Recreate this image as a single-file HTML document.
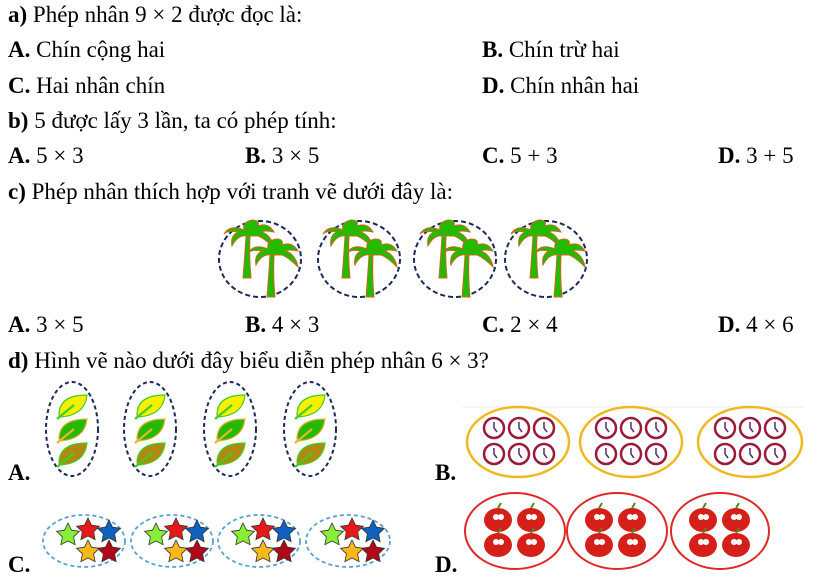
<!DOCTYPE html>
<html><head><meta charset="utf-8"><style>
body{margin:0;background:#fff;}
svg{display:block;font-family:"Liberation Serif",serif;font-size:23px;}
</style></head><body>
<svg width="825" height="582" viewBox="0 0 825 582" xmlns="http://www.w3.org/2000/svg">
<defs>
<g id="palm">
 <path d="M-3 0 q2 -25 3 -42 l4 0 q-1 22 1 42 z" fill="#22bb00" stroke="#c86a1a" stroke-width="1"/>
 <path d="M2 -42 q-10 -2 -16 10 q-2 -10 6 -14 q-10 -2 -14 2 q6 -10 20 -4 q-2 -8 8 -10 q8 0 6 6 q10 -4 16 6 q-10 -2 -12 0 q10 4 12 16 q-10 -10 -16 -12 z" fill="#22bb00" stroke="#c86a1a" stroke-width="1"/>
</g>
<g id="leaf">
 <path d="M-14 10 q0 -20 28 -20 q-2 20 -26 22 z" stroke-width="1.2"/>
 <path d="M-16 14 l17 -14" stroke-width="2.2" fill="none"/>
</g>
<g id="clock"><circle r="10" fill="#fff" stroke="#9a1a3a" stroke-width="2.5"/><path d="M0 -6 v6 l3 4" stroke="#5a2a6a" stroke-width="1.5" fill="none"/></g>
<g id="apple"><path d="M0 -12 l3 -5" stroke="#4a8a20" stroke-width="2"/><ellipse cy="0" rx="14" ry="12" fill="#d42018"/><circle cx="-2" cy="-3" r="3" fill="#fff"/><circle cx="3" cy="-3" r="3" fill="#fff"/></g>
<path id="star" d="M0 -12 L3.5 -4.8 11.4 -3.7 5.6 1.8 7.1 9.7 0 6 -7.1 9.7 -5.6 1.8 -11.4 -3.7 -3.5 -4.8 z" stroke="#333" stroke-width="0.8"/>
</defs>
<text x="8" y="22"><tspan font-weight="bold">a)</tspan> Phép nhân 9 × 2 được đọc là:</text>
<text x="8" y="57"><tspan font-weight="bold">A.</tspan> Chín cộng hai</text>
<text x="482" y="57"><tspan font-weight="bold">B.</tspan> Chín trừ hai</text>
<text x="8" y="93"><tspan font-weight="bold">C.</tspan> Hai nhân chín</text>
<text x="482" y="93"><tspan font-weight="bold">D.</tspan> Chín nhân hai</text>
<text x="8" y="128"><tspan font-weight="bold">b)</tspan> 5 được lấy 3 lần, ta có phép tính:</text>
<text x="8" y="163"><tspan font-weight="bold">A.</tspan> 5 × 3</text>
<text x="245" y="163"><tspan font-weight="bold">B.</tspan> 3 × 5</text>
<text x="482" y="163"><tspan font-weight="bold">C.</tspan> 5 + 3</text>
<text x="718" y="163"><tspan font-weight="bold">D.</tspan> 3 + 5</text>
<text x="8" y="199"><tspan font-weight="bold">c)</tspan> Phép nhân thích hợp với tranh vẽ dưới đây là:</text>
<g fill="none" stroke="#1a2a5a" stroke-width="2" stroke-dasharray="5,3">
<ellipse cx="260" cy="259" rx="41" ry="38"/><ellipse cx="359" cy="259" rx="41" ry="38"/><ellipse cx="455" cy="259" rx="41" ry="38"/><ellipse cx="546" cy="259" rx="41" ry="38"/>
</g>
<g>
<use href="#palm" x="246" y="278"/><use href="#palm" x="270" y="297"/>
<use href="#palm" x="345" y="278"/><use href="#palm" x="369" y="297"/>
<use href="#palm" x="442" y="278"/><use href="#palm" x="465" y="297"/>
<use href="#palm" x="533" y="278"/><use href="#palm" x="557" y="297"/>
</g>
<text x="8" y="332"><tspan font-weight="bold">A.</tspan> 3 × 5</text>
<text x="245" y="332"><tspan font-weight="bold">B.</tspan> 4 × 3</text>
<text x="482" y="332"><tspan font-weight="bold">C.</tspan> 2 × 4</text>
<text x="718" y="332"><tspan font-weight="bold">D.</tspan> 4 × 6</text>
<text x="8" y="368"><tspan font-weight="bold">d)</tspan> Hình vẽ nào dưới đây biểu diễn phép nhân 6 × 3?</text>
<g fill="none" stroke="#1a2a5a" stroke-width="2" stroke-dasharray="4,3">
<ellipse cx="72" cy="429" rx="26" ry="47"/><ellipse cx="150" cy="429" rx="26" ry="47"/><ellipse cx="230" cy="429" rx="26" ry="47"/><ellipse cx="310" cy="429" rx="26" ry="47"/>
</g>
<g>
<g transform="translate(73,405)"><use href="#leaf" fill="#f4f000" stroke="#44cc22"/></g>
<g transform="translate(73,429)"><use href="#leaf" fill="#22bb00" stroke="#f0b030"/></g>
<g transform="translate(73,453)"><use href="#leaf" fill="#b08a10" stroke="#44cc22"/></g>
<g transform="translate(151,405)"><use href="#leaf" fill="#f4f000" stroke="#44cc22"/></g>
<g transform="translate(151,429)"><use href="#leaf" fill="#22bb00" stroke="#f0b030"/></g>
<g transform="translate(151,453)"><use href="#leaf" fill="#b08a10" stroke="#44cc22"/></g>
<g transform="translate(231,405)"><use href="#leaf" fill="#f4f000" stroke="#44cc22"/></g>
<g transform="translate(231,429)"><use href="#leaf" fill="#22bb00" stroke="#f0b030"/></g>
<g transform="translate(231,453)"><use href="#leaf" fill="#b08a10" stroke="#44cc22"/></g>
<g transform="translate(311,405)"><use href="#leaf" fill="#f4f000" stroke="#44cc22"/></g>
<g transform="translate(311,429)"><use href="#leaf" fill="#22bb00" stroke="#f0b030"/></g>
<g transform="translate(311,453)"><use href="#leaf" fill="#b08a10" stroke="#44cc22"/></g>
</g>
<text x="8" y="480" font-weight="bold">A.</text>
<text x="435" y="480" font-weight="bold">B.</text>
<line x1="462" y1="407" x2="805" y2="407" stroke="#eee" stroke-width="1"/>
<g fill="none" stroke="#f0b820" stroke-width="2.5">
<ellipse cx="518" cy="442" rx="51" ry="35"/><ellipse cx="631" cy="442" rx="51" ry="35"/><ellipse cx="750" cy="442" rx="52" ry="35"/>
</g>
<g>
<use href="#clock" x="494" y="428"/><use href="#clock" x="519" y="428"/><use href="#clock" x="544" y="428"/>
<use href="#clock" x="494" y="454"/><use href="#clock" x="519" y="454"/><use href="#clock" x="544" y="454"/>
<use href="#clock" x="606" y="428"/><use href="#clock" x="631" y="428"/><use href="#clock" x="656" y="428"/>
<use href="#clock" x="606" y="454"/><use href="#clock" x="631" y="454"/><use href="#clock" x="656" y="454"/>
<use href="#clock" x="725" y="428"/><use href="#clock" x="750" y="428"/><use href="#clock" x="775" y="428"/>
<use href="#clock" x="725" y="454"/><use href="#clock" x="750" y="454"/><use href="#clock" x="775" y="454"/>
</g>
<g fill="none" stroke="#5aa0d8" stroke-width="1.8" stroke-dasharray="4,3">
<ellipse cx="84" cy="541" rx="41" ry="26"/><ellipse cx="172" cy="541" rx="41" ry="26"/><ellipse cx="259" cy="541" rx="41" ry="26"/><ellipse cx="348" cy="541" rx="42" ry="26"/>
</g>
<g>
<g transform="translate(8,0)"><use href="#star" x="60" y="535" fill="#88ee33"/><use href="#star" x="80" y="530" fill="#e81818"/><use href="#star" x="101" y="532" fill="#1060c0"/><use href="#star" x="80" y="552" fill="#f8b818"/><use href="#star" x="101" y="552" fill="#b00818"/></g>
<g transform="translate(96,0)"><use href="#star" x="60" y="535" fill="#88ee33"/><use href="#star" x="80" y="530" fill="#e81818"/><use href="#star" x="101" y="532" fill="#1060c0"/><use href="#star" x="80" y="552" fill="#f8b818"/><use href="#star" x="101" y="552" fill="#b00818"/></g>
<g transform="translate(183,0)"><use href="#star" x="60" y="535" fill="#88ee33"/><use href="#star" x="80" y="530" fill="#e81818"/><use href="#star" x="101" y="532" fill="#1060c0"/><use href="#star" x="80" y="552" fill="#f8b818"/><use href="#star" x="101" y="552" fill="#b00818"/></g>
<g transform="translate(272,0)"><use href="#star" x="60" y="535" fill="#88ee33"/><use href="#star" x="80" y="530" fill="#e81818"/><use href="#star" x="101" y="532" fill="#1060c0"/><use href="#star" x="80" y="552" fill="#f8b818"/><use href="#star" x="101" y="552" fill="#b00818"/></g>
</g>
<text x="8" y="572" font-weight="bold">C.</text>
<text x="435" y="572" font-weight="bold">D.</text>
<g fill="none" stroke="#e02828" stroke-width="2">
<ellipse cx="515" cy="531" rx="50" ry="38"/><ellipse cx="617" cy="531" rx="50" ry="38"/><ellipse cx="720" cy="531" rx="49" ry="38"/>
</g>
<g>
<use href="#apple" x="498" y="520"/><use href="#apple" x="531" y="520"/><use href="#apple" x="498" y="545"/><use href="#apple" x="531" y="545"/>
<use href="#apple" x="599" y="520"/><use href="#apple" x="632" y="520"/><use href="#apple" x="599" y="545"/><use href="#apple" x="632" y="545"/>
<use href="#apple" x="703" y="520"/><use href="#apple" x="736" y="520"/><use href="#apple" x="703" y="545"/><use href="#apple" x="736" y="545"/>
</g>
</svg>
</body></html>
